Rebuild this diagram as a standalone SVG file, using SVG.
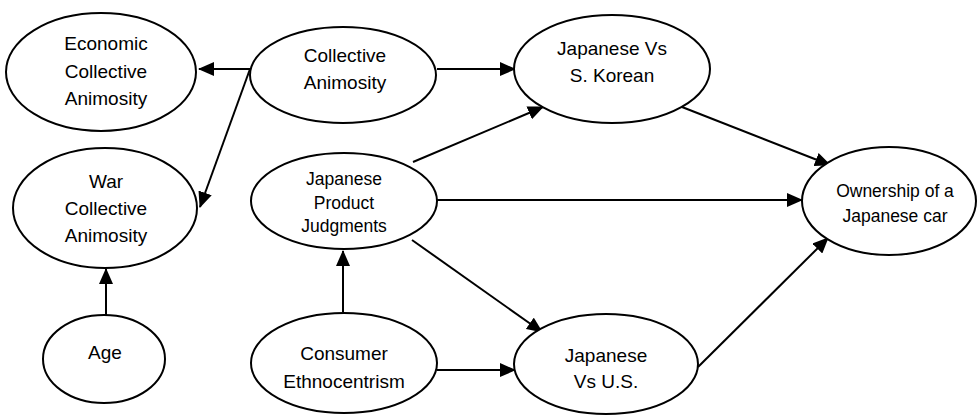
<svg xmlns="http://www.w3.org/2000/svg" width="977" height="417" viewBox="0 0 977 417">
  <style>
    .node ellipse { fill: #fff; stroke: #000; stroke-width: 2; }
    .lbl { font-family: "Liberation Sans", Arial, sans-serif; font-size: 19px; fill: #000; text-anchor: middle; }
    .sm { font-size: 17.5px; }
    .edge { stroke: #000; stroke-width: 2; fill: none; marker-end: url(#arrow); }
  </style>
  <defs>
    <marker id="arrow" markerUnits="userSpaceOnUse" markerWidth="16" markerHeight="14" refX="15" refY="7" orient="auto">
      <path d="M0,0 L16,7 L0,14 Z" fill="#000"/>
    </marker>
  </defs>
  <rect width="977" height="417" fill="#fff"/>

  <g id="connectors">
    <line class="edge" x1="250" y1="69" x2="199" y2="69"/>
    <line class="edge" x1="250" y1="69" x2="200" y2="207"/>
    <line class="edge" x1="437" y1="69" x2="515" y2="69"/>
    <line class="edge" x1="106" y1="315" x2="106" y2="269"/>
    <line class="edge" x1="343" y1="312" x2="343" y2="251"/>
    <line class="edge" x1="437" y1="370" x2="515" y2="370"/>
    <line class="edge" x1="413" y1="162" x2="543" y2="107"/>
    <line class="edge" x1="437" y1="200" x2="802" y2="200"/>
    <line class="edge" x1="412" y1="240" x2="542" y2="332"/>
    <line class="edge" x1="682" y1="107" x2="830" y2="165"/>
    <line class="edge" x1="698" y1="367" x2="828" y2="238"/>
  </g>

  <g id="economic-animosity" class="node">
    <ellipse cx="101" cy="72" rx="95" ry="59"/>
    <text class="lbl" x="106" y="50">Economic</text>
    <text class="lbl" x="106" y="78">Collective</text>
    <text class="lbl" x="106" y="105">Animosity</text>
  </g>

  <g id="collective-animosity" class="node">
    <ellipse cx="343" cy="75" rx="93" ry="48"/>
    <text class="lbl" x="345" y="62">Collective</text>
    <text class="lbl" x="345" y="89">Animosity</text>
  </g>

  <g id="japanese-vs-korean" class="node">
    <ellipse cx="612" cy="69" rx="98" ry="54"/>
    <text class="lbl" x="612" y="55">Japanese Vs</text>
    <text class="lbl" x="612" y="82">S. Korean</text>
  </g>

  <g id="war-animosity" class="node">
    <ellipse cx="105" cy="208" rx="92" ry="60"/>
    <text class="lbl" x="106" y="188">War</text>
    <text class="lbl" x="106" y="215">Collective</text>
    <text class="lbl" x="106" y="242">Animosity</text>
  </g>

  <g id="product-judgments" class="node">
    <ellipse cx="344" cy="201" rx="93" ry="48"/>
    <text class="lbl sm" x="344" y="185">Japanese</text>
    <text class="lbl sm" x="344" y="209">Product</text>
    <text class="lbl sm" x="344" y="232">Judgments</text>
  </g>

  <g id="ownership" class="node">
    <ellipse cx="889" cy="201" rx="87" ry="54"/>
    <text class="lbl sm" x="895" y="197">Ownership of a</text>
    <text class="lbl sm" x="895" y="222">Japanese car</text>
  </g>

  <g id="age" class="node">
    <ellipse cx="104" cy="359" rx="61" ry="44"/>
    <text class="lbl" x="105" y="359">Age</text>
  </g>

  <g id="ethnocentrism" class="node">
    <ellipse cx="344" cy="363" rx="93" ry="50"/>
    <text class="lbl" x="344" y="360">Consumer</text>
    <text class="lbl" x="344" y="388">Ethnocentrism</text>
  </g>

  <g id="japanese-vs-us" class="node">
    <ellipse cx="606" cy="364" rx="92" ry="50"/>
    <text class="lbl" x="606" y="362">Japanese</text>
    <text class="lbl" x="606" y="388">Vs U.S.</text>
  </g>
</svg>
